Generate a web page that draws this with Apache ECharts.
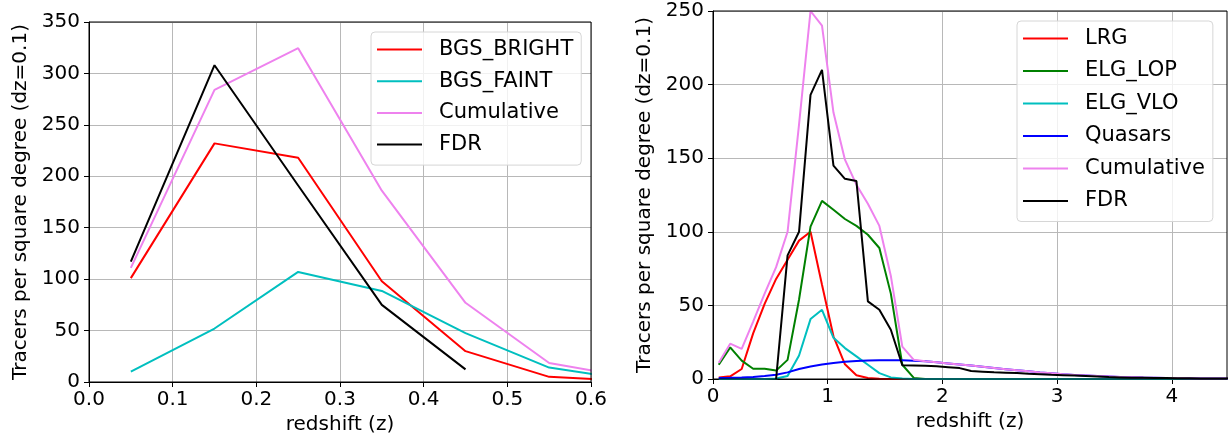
<!DOCTYPE html>
<html>
<head>
<meta charset="utf-8">
<script src="https://cdn.jsdelivr.net/npm/echarts@6/dist/echarts.min.js"></script>
<style>
  html, body { margin: 0; padding: 0; background: #fff; }
  #chart { width: 1230px; height: 439px; }
</style>
</head>
<body>
<div id="chart"></div>
<script>
// ---- Bright galaxy survey tracers (left panel) ----
const zBgs = [0.05, 0.15, 0.25, 0.35, 0.45, 0.55, 0.65];
const bgsBright = [101, 232, 218, 98, 30, 5, 1];
const bgsFaint = [10, 52, 107, 88.5, 47.5, 14, 2];
const bgsCumulative = [111, 284, 324.5, 186, 77, 18.5, 4];
const zBgsFdr = [0.05, 0.15, 0.25, 0.35, 0.45];
const bgsFdr = [117, 308, 191, 75, 12.3];
const bgsTicks = [0, 0.1, 0.2, 0.3, 0.4, 0.5, 0.6];

// ---- Dark-time tracers (right panel) ----
const zDark = [
  0.05, 0.15, 0.25, 0.35, 0.45, 0.55, 0.65, 0.75, 0.85, 0.95,
  1.05, 1.15, 1.25, 1.35, 1.45, 1.55, 1.65, 1.75, 1.85, 1.95,
  2.05, 2.15, 2.25, 2.35, 2.45, 2.55, 2.65, 2.75, 2.85, 2.95,
  3.05, 3.15, 3.25, 3.35, 3.45, 3.55, 3.65, 3.75, 3.85, 3.95,
  4.05, 4.15, 4.25, 4.35, 4.45, 4.55
];
const lrg = [
  1.1, 1.8, 6.8, 31, 51, 68, 81, 94, 100, 64,
  29, 10, 2.5, 0.7, 0.2, 0, 0, 0, 0, 0,
  0, 0, 0, 0, 0, 0, 0, 0, 0, 0,
  0, 0, 0, 0, 0, 0, 0, 0, 0, 0,
  0, 0, 0, 0, 0, 0
];
const elgLop = [
  9.7, 21.5, 12.5, 7, 7, 5.7, 13, 54, 103.5, 121,
  115, 108.7, 104, 98, 89, 58, 9.7, 0.7, 0, 0,
  0, 0, 0, 0, 0, 0, 0, 0, 0, 0,
  0, 0, 0, 0, 0, 0, 0, 0, 0, 0,
  0, 0, 0, 0, 0, 0
];
const elgVlo = [
  0, 0, 0, 0, 0, 0.3, 2, 16, 40.7, 47,
  28, 21, 15.4, 9.7, 4, 1.1, 0.3, 0, 0, 0,
  0, 0, 0, 0, 0, 0, 0, 0, 0, 0,
  0, 0, 0, 0, 0, 0, 0, 0, 0, 0,
  0, 0, 0, 0, 0, 0
];
const quasars = [
  0.7, 0.8, 1.0, 1.4, 2.0, 2.9, 4.5, 6.8, 8.5, 9.8,
  10.9, 11.7, 12.2, 12.5, 12.7, 12.8, 12.7, 12.4, 12.0, 11.3,
  10.6, 9.9, 9.1, 8.3, 7.5, 6.7, 5.9, 5.2, 4.5, 3.9,
  3.3, 2.8, 2.4, 2.0, 1.7, 1.4, 1.2, 1.0, 0.85, 0.7,
  0.6, 0.5, 0.4, 0.35, 0.3, 0.25
];
const darkCumulative = [
  11, 24, 20.5, 39, 58, 76, 100, 173, 250, 240,
  181, 149, 132, 119, 104, 70, 22, 13, 12.0, 11.3,
  10.6, 9.9, 9.1, 8.3, 7.5, 6.7, 5.9, 5.2, 4.5, 3.9,
  3.3, 2.8, 2.4, 2.0, 1.7, 1.4, 1.2, 1.0, 0.85, 0.7,
  0.6, 0.5, 0.4, 0.35, 0.3, 0.25
];
const darkFdr = [
  null, null, null, null, null, 0, 84, 100, 193, 210,
  145, 136, 134.5, 52.7, 47, 33.5, 9.3, 9.2, 9.0, 8.6,
  8.0, 7.4, 5.4, 5.0, 4.6, 4.3, 4.0, 3.6, 3.3, 2.9,
  2.6, 2.3, 2.0, 1.7, 1.3, 1.1, 0.9, 0.8, 0.7, 0.6,
  0.5, 0.5, 0.4, 0.4, 0.4, 0.4
];
const darkTicks = [0, 1, 2, 3, 4];

const leftLegend = ['BGS_BRIGHT', 'BGS_FAINT', 'Cumulative', 'FDR'];
const rightLegend = ['LRG', 'ELG_LOP', 'ELG_VLO', 'Quasars', 'Cumulative', 'FDR'];
const yTitle = 'Tracers per square degree (dz=0.1)';
const xTitle = 'redshift (z)';

const FONT = 'DejaVu Sans';
const FS = 20;
const LEGEND_FS = 21;
const GRID_COLOR = '#b8b8b8';

function pairs(xs, ys) {
  return xs.map((x, i) => [x, ys[i]]);
}

function lineSeries(name, color, xs, ys, axisIndex) {
  return {
    type: 'line',
    name: name,
    xAxisIndex: axisIndex,
    yAxisIndex: axisIndex,
    data: pairs(xs, ys),
    showSymbol: false,
    symbol: 'none',
    color: color,
    lineStyle: { color: color, width: 2 },
    animation: false,
    clip: true,
    z: 3
  };
}

function xAxisCfg(gridIndex, min, max, ticks, fmt) {
  return {
    type: 'value', gridIndex: gridIndex, min: min, max: max,
    name: xTitle, nameLocation: 'middle', nameGap: 31,
    nameTextStyle: { fontFamily: FONT, fontSize: FS, color: '#000' },
    axisLine: { show: true, onZero: false, lineStyle: { color: '#000', width: 1 } },
    axisTick: { show: true, length: 5, customValues: ticks, lineStyle: { color: '#000' } },
    axisLabel: { fontFamily: FONT, fontSize: FS, color: '#000', margin: 8, customValues: ticks, formatter: fmt },
    splitLine: { show: true, lineStyle: { color: GRID_COLOR, width: 1 } }
  };
}

function yAxisCfg(gridIndex, max, nameGap) {
  return {
    type: 'value', gridIndex: gridIndex, min: 0, max: max, interval: 50,
    name: yTitle, nameLocation: 'middle', nameGap: nameGap, nameRotate: 90,
    nameTextStyle: { fontFamily: FONT, fontSize: FS, color: '#000' },
    axisLine: { show: true, lineStyle: { color: '#000', width: 1 } },
    axisTick: { show: true, length: 5, lineStyle: { color: '#000' } },
    axisLabel: { fontFamily: FONT, fontSize: FS, color: '#000', margin: 9 },
    splitLine: { show: true, lineStyle: { color: GRID_COLOR, width: 1 } }
  };
}

function legendCfg(names, left, top, gap) {
  return {
    data: names,
    orient: 'vertical',
    left: left,
    top: top,
    icon: 'rect',
    itemWidth: 45,
    itemHeight: 2,
    itemGap: gap,
    padding: [7, 8, 10, 6],
    backgroundColor: 'rgba(255,255,255,0.8)',
    borderColor: '#d6d6d6',
    borderWidth: 1,
    borderRadius: 4,
    selectedMode: false,
    textStyle: { fontFamily: FONT, fontSize: LEGEND_FS, color: '#000', lineHeight: 21, padding: [0, 0, 0, 12] }
  };
}

const chart = echarts.init(document.getElementById('chart'), null, { renderer: 'canvas' });
chart.setOption({
  backgroundColor: '#fff',
  animation: false,
  grid: [
    { left: 89, top: 22, right: 639, bottom: 57, show: true, borderColor: '#000', borderWidth: 1, z: 4, outerBoundsMode: 'none', containLabel: false },
    { left: 713, top: 11, right: 3, bottom: 60, show: true, borderColor: '#000', borderWidth: 1, z: 4, outerBoundsMode: 'none', containLabel: false }
  ],
  xAxis: [
    xAxisCfg(0, 0, 0.6, bgsTicks, v => v.toFixed(1)),
    xAxisCfg(1, 0, 4.48, darkTicks, v => String(v))
  ],
  yAxis: [
    yAxisCfg(0, 350, 58),
    yAxisCfg(1, 250, 58)
  ],
  legend: [
    legendCfg(leftLegend, 371, 32, 10.7),
    legendCfg(rightLegend, 1017, 21, 11.5)
  ],
  series: [
    lineSeries('BGS_BRIGHT', '#ff0000', zBgs, bgsBright, 0),
    lineSeries('BGS_FAINT', '#00bfbf', zBgs, bgsFaint, 0),
    lineSeries('Cumulative', '#ee82ee', zBgs, bgsCumulative, 0),
    lineSeries('FDR', '#000000', zBgsFdr, bgsFdr, 0),
    lineSeries('LRG', '#ff0000', zDark, lrg, 1),
    lineSeries('ELG_LOP', '#008000', zDark, elgLop, 1),
    lineSeries('ELG_VLO', '#00bfbf', zDark, elgVlo, 1),
    lineSeries('Quasars', '#0000ff', zDark, quasars, 1),
    lineSeries('Cumulative', '#ee82ee', zDark, darkCumulative, 1),
    lineSeries('FDR', '#000000', zDark, darkFdr, 1)
  ]
});
</script>
</body>
</html>
